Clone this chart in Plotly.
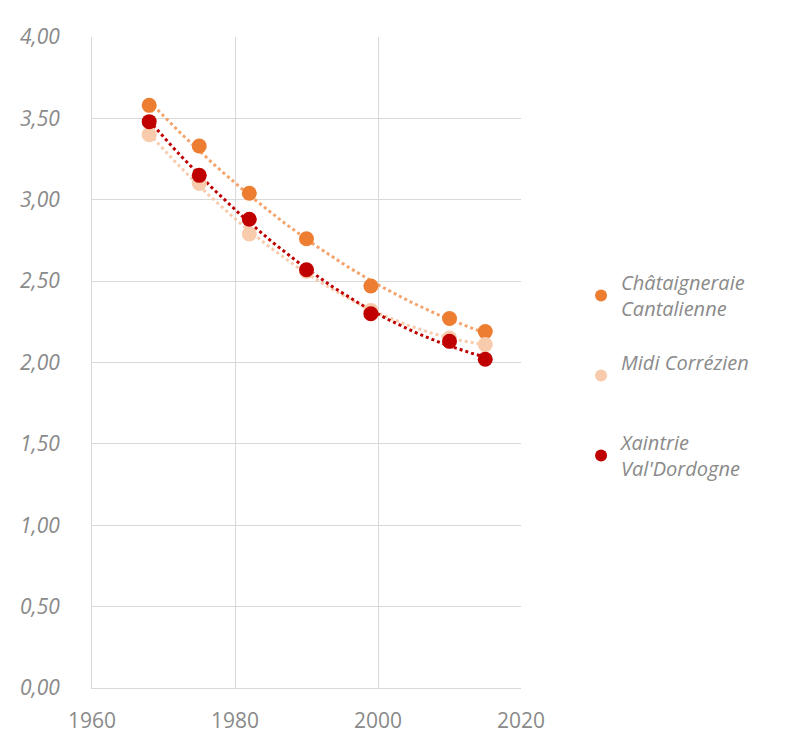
import numpy as np
import plotly.graph_objects as go

# census years and average household size per territory
years = [1968, 1975, 1982, 1990, 1999, 2010, 2015]
chataigneraie = [3.58, 3.33, 3.04, 2.76, 2.47, 2.27, 2.19]
midi_correzien = [3.40, 3.10, 2.79, 2.56, 2.32, 2.15, 2.11]
xaintrie = [3.48, 3.15, 2.88, 2.57, 2.30, 2.13, 2.02]

series = [
    ("Châtaigneraie<br>Cantalienne", chataigneraie, "#ED7D31", "#F4A36B"),
    ("Midi Corrézien<br> ", midi_correzien, "#F8CBAD", "#F8CBAD"),
    ("Xaintrie<br>Val'Dordogne", xaintrie, "#C00000", "#C00000"),
]

FONT = "Open Sans"
GREY = "#8A8A8A"
GRID = "#D9D9D9"

fig = go.Figure()

# polynomial (order 2) trendlines, as in the original spreadsheet chart
x_fit = np.linspace(min(years), max(years), 120)
for name, vals, col, tcol in series:
    coef = np.polyfit(years, vals, 2)
    fig.add_trace(
        go.Scatter(
            x=x_fit,
            y=np.polyval(coef, x_fit),
            mode="lines",
            line=dict(color=tcol, width=3, dash="dot"),
            showlegend=False,
            hoverinfo="skip",
        )
    )

for name, vals, col, _ in series:
    fig.add_trace(
        go.Scatter(
            x=years,
            y=vals,
            mode="markers",
            name=name,
            marker=dict(color=col, size=15),
            legendgroup=name,
        )
    )

fig.update_layout(
    width=808,
    height=753,
    margin=dict(l=82, r=295, t=29, b=73),
    paper_bgcolor="white",
    plot_bgcolor="white",
    separators=",.",
    font=dict(family=FONT, color=GREY, size=20),
    legend=dict(
        x=1.14,
        y=0.653,
        xanchor="left",
        yanchor="top",
        font=dict(family=FONT, size=20, color=GREY, style="italic"),
        tracegroupgap=25,
        itemsizing="constant",
        bgcolor="rgba(0,0,0,0)",
    ),
    xaxis=dict(
        range=[1960, 2020],
        tickvals=[1960, 1980, 2000, 2020],
        showgrid=True,
        gridcolor=GRID,
        zeroline=False,
        showline=True,
        linecolor=GRID,
        ticks="",
        ticklabelstandoff=14,
        tickfont=dict(size=21, color=GREY),
    ),
    yaxis=dict(
        range=[0, 4],
        dtick=0.5,
        tickformat=".2f",
        showgrid=True,
        gridcolor=GRID,
        zeroline=False,
        showline=True,
        linecolor=GRID,
        ticks="",
        ticklabelstandoff=27,
        tickfont=dict(size=21, color=GREY, style="italic"),
    ),
)

fig.write_html("out.html")
